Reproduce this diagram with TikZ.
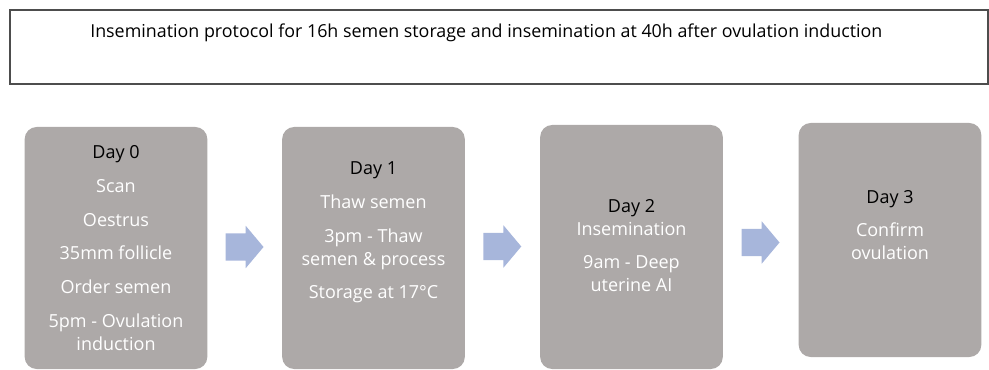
\documentclass[tikz,border=0pt]{standalone}
\usepackage{fontspec}
\setmainfont{Open Sans}
\usetikzlibrary{shapes.arrows,calc}

\definecolor{boxgray}{HTML}{ADA9A8}
\definecolor{arrowblue}{HTML}{A7B6DB}
\definecolor{framegray}{HTML}{4D4D4D}

\begin{document}
\begin{tikzpicture}[x=0.75pt,y=-0.75pt,
  daybox/.style={fill=boxgray, rounded corners=9pt, minimum width=137pt, inner sep=0pt},
  daytext/.style={text=white, align=center, inner sep=0pt, font=\fontsize{13.5}{17.25}\selectfont},
  blockarrow/.style={single arrow, fill=arrowblue, inner xsep=0pt, inner ysep=10.1pt,
    minimum height=28.5pt, single arrow head extend=5.6pt, single arrow tip angle=100}]
  \useasboundingbox (0,0) rectangle (989,370);

  % heading
  \node[draw=framegray, line width=1.2pt, minimum width=733.5pt, minimum height=55.5pt] at (499,47) (title) {};
  \node[anchor=west, inner sep=0pt, font=\fontsize{13.4}{16}\selectfont] at (90,33) (heading) {Insemination protocol for 16h semen storage and insemination at 40h after ovulation induction};

  % one box per day
  \node[daybox, minimum height=181.5pt] at (116,248) (day0) {};
  \node[daybox, minimum height=181.5pt] at (373.5,248) (day1) {};
  \node[daybox, minimum height=183pt] at (631.5,247) (day2) {};
  \node[daybox, minimum height=175.5pt] at (890,240) (day3) {};

  \node[daytext] at (116,248) (txt0) {\textcolor{black}{Day 0}\\[8pt] Scan\\[8pt] Oestrus\\[8pt] 35mm follicle\\[8pt] Order semen\\[8pt] 5pm - Ovulation\\ induction};
  \node[daytext] at (373.5,232.5) (txt1) {\textcolor{black}{Day 1}\\[8pt] Thaw semen\\[8pt] 3pm - Thaw\\ semen \& process\\[8pt] Storage at 17°C};
  \node[daytext] at (631.5,245.5) (txt2) {\textcolor{black}{Day 2}\\ Insemination\\[8pt] 9am - Deep\\ uterine AI};
  \node[daytext] at (890,225) (txt3) {\textcolor{black}{Day 3}\\[7.5pt] Confirm\\ ovulation};

  % arrows between the days
  \foreach \a/\b in {day0/day1,day1/day2,day2/day3}
    \node[blockarrow] at ($(\a.east)!.5!(\b.west)+(-6,-1)$) (to\b) {};
\end{tikzpicture}
\end{document}
